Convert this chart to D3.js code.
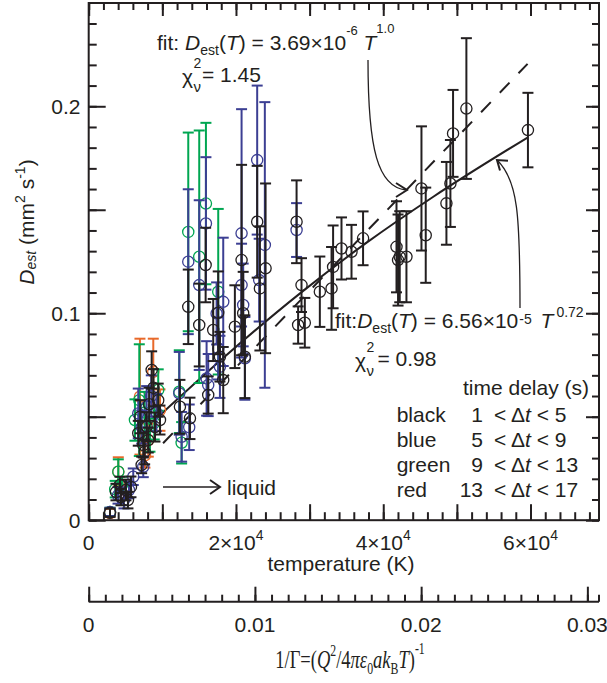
<!DOCTYPE html>
<html><head><meta charset="utf-8">
<script src="https://cdn.jsdelivr.net/npm/d3@7"></script>
<style>
body{margin:0;background:#fff;}
svg{display:block;}
text{font-family:"Liberation Sans", Arial, sans-serif; fill:#231f20;}
</style></head><body>
<svg id="c" width="607" height="683"></svg>
<script>
// ---------- data (T in K, D_est in mm^2/s, error half-width) ----------
const blackPts = [
 [2890,0.0036,0.002],[3700,0.0136,0.004],[4380,0.0112,0.004],[5060,0.0146,0.005],[5740,0.0161,0.005],
 [4250,0.0170,0.004],[5330,0.0097,0.004],[6730,0.0420,0.006],[7190,0.0267,0.004],[7870,0.0452,0.007],
 [8550,0.0726,0.009],[9440,0.0580,0.008],[8090,0.0387,0.006],[7410,0.0363,0.006],[9680,0.0484,0.007],
 [7000,0.0500,0.008],[8200,0.0560,0.008],[8800,0.0640,0.009],[9000,0.0450,0.007],[7600,0.0330,0.006],
 [12390,0.0548,0.013],[13750,0.0492,0.010],[13520,0.1031,0.018],[15010,0.0943,0.020],[15880,0.1233,0.018],
 [16230,0.0605,0.009],[16910,0.0919,0.015],[17820,0.0790,0.012],[18270,0.0677,0.016],[17590,0.1002,0.020],
 [20760,0.1257,0.046],[19850,0.0935,0.020],[21210,0.0790,0.020],[20980,0.1000,0.020],[22880,0.1442,0.027],
 [23250,0.1120,0.030],[24020,0.1217,0.041],[28230,0.1442,0.020],[28900,0.1136,0.013],[28440,0.0943,0.009],
 [29350,0.0954,0.012],[31390,0.1104,0.017],[32980,0.1120,0.020],[33190,0.1224,0.020],[34330,0.1313,0.015],
 [35690,0.1297,0.013],[37260,0.1362,0.013],[41800,0.1321,0.022],[42010,0.1257,0.022],[42240,0.1273,0.022],
 [43150,0.1273,0.022],[45190,0.1603,0.030],[45770,0.1377,0.023],[48580,0.1531,0.020],[49120,0.1627,0.021],
 [49480,0.1869,0.021],[51290,0.1989,0.034],[59650,0.1885,0.018]
];
const bluePts = [
 [13520,0.1249,0.035],[15010,0.1136,0.041],[15920,0.1434,0.032],[18270,0.1055,0.031],[20760,0.1386,0.060],
 [22880,0.1740,0.036],[23920,0.1330,0.069],[28230,0.1402,0.013],[20760,0.1136,0.020],[20980,0.1040,0.020],
 [23150,0.1160,0.020],[17370,0.0999,0.015],[17590,0.0830,0.015],[17820,0.0741,0.015],[16010,0.0685,0.018],
 [16230,0.0653,0.015],[21210,0.0782,0.020],[13650,0.0449,0.011],[12620,0.0403,0.012],[12300,0.0613,0.020],
 [6730,0.0516,0.012],[7870,0.0548,0.010],[7410,0.0258,0.005],[6050,0.0210,0.004],[3980,0.0120,0.004],
 [4790,0.0097,0.004],[5470,0.0146,0.004],[2890,0.0040,0.002],[8500,0.0600,0.010],[9200,0.0520,0.009],
 [7200,0.0450,0.008]
];
const greenPts = [
 [13520,0.1393,0.048],[15010,0.1273,0.061],[15920,0.1530,0.039],[17590,0.1104,0.040],[12300,0.0621,0.020],
 [12620,0.0374,0.010],[6870,0.0580,0.027],[9440,0.0629,0.010],[4020,0.0234,0.006],[6280,0.0484,0.010],
 [8320,0.0411,0.008],[4520,0.0170,0.004],[2890,0.0040,0.002],[3600,0.0150,0.004],[7600,0.0520,0.010],
 [8900,0.0470,0.008]
];
const redPts = [
 [6960,0.0597,0.028],[8770,0.0717,0.016],[9680,0.0532,0.010],[8090,0.0387,0.008],[4020,0.0234,0.007],
 [4930,0.0146,0.004],[2890,0.0035,0.002],[7640,0.0314,0.006]
];
// fit curves
const fitPowerLaw = [[9600,0.0505],[18300,0.0785],[28700,0.1096],[37700,0.1340],[46800,0.1563],[59650,0.1850]];
const fitLinear = [[10100,0.0372],[59600,0.2205]];
// tick labels
const xTickLabels = [0, 20000, 40000, 60000];
const yTickLabels = [0, 0.1, 0.2];
const gammaTickLabels = [0, 0.01, 0.02, 0.03];
const legendRows = [["black","1","5"],["blue","5","9"],["green","9","13"],["red","13","17"]];

// ---------- setup ----------
const svg = d3.select("#c");
const x = d3.scaleLinear().domain([0, 69300]).range([88.7, 599]);
const y = d3.scaleLinear().domain([0, 0.2499]).range([520.2, 3]);
const x2 = d3.scaleLinear().domain([0, 0.0307]).range([88.7, 599]);
const INK = "#231f20";
const colors = {black:INK, blue:"#3c3f93", green:"#00a651", red:"#e8692a"};

function rich(sel, px, py, parts, opt={}) {
  const t = sel.append("text").attr("x",px).attr("y",py)
    .attr("font-size", opt.size||21).attr("text-anchor", opt.anchor||"start");
  if (opt.family) t.style("font-family", opt.family);
  let cur = 0;
  parts.forEach(p => {
    const [str, kind, shift, dx, fs] = p;
    let target = 0, size = null;
    const italic = kind.indexOf("i") === 0;
    if (kind.endsWith("sup")) { target = (shift!==undefined && shift!==null) ? shift : -9; size = fs||14; }
    else if (kind.endsWith("sub")) { target = (shift!==undefined && shift!==null) ? shift : 5; size = fs||14; }
    const ts = t.append("tspan").text(str).attr("dy", target - cur);
    if (size) ts.attr("font-size", size);
    if (italic) ts.attr("font-style","italic");
    if (dx) ts.attr("dx", dx);
    cur = target;
  });
  return t;
}

// ---------- fit lines ----------
const line = d3.line().x(d=>x(d[0])).y(d=>y(d[1]));
svg.append("path").datum(fitLinear).attr("d", line)
  .attr("fill","none").attr("stroke",INK).attr("stroke-width",2).attr("stroke-dasharray","14,13");
svg.append("path").datum(fitPowerLaw).attr("d", line.curve(d3.curveMonotoneX))
  .attr("fill","none").attr("stroke",INK).attr("stroke-width",2);

// ---------- data with error bars ----------
function drawSeries(pts, col) {
  const g = svg.append("g").attr("stroke", col).attr("fill","none");
  const s = g.selectAll("g").data(pts).join("g");
  s.append("line").attr("x1",d=>x(d[0])).attr("x2",d=>x(d[0]))
    .attr("y1",d=>y(d[1]-d[2])).attr("y2",d=>y(d[1]+d[2])).attr("stroke-width",2);
  s.append("line").attr("x1",d=>x(d[0])-5.5).attr("x2",d=>x(d[0])+5.5)
    .attr("y1",d=>y(d[1]+d[2])).attr("y2",d=>y(d[1]+d[2])).attr("stroke-width",2);
  s.append("line").attr("x1",d=>x(d[0])-5.5).attr("x2",d=>x(d[0])+5.5)
    .attr("y1",d=>y(d[1]-d[2])).attr("y2",d=>y(d[1]-d[2])).attr("stroke-width",2);
  s.append("circle").attr("cx",d=>x(d[0])).attr("cy",d=>y(d[1])).attr("r",5.6).attr("stroke-width",1.3);
}
drawSeries(redPts, colors.red);
drawSeries(greenPts, colors.green);
drawSeries(bluePts, colors.blue);
drawSeries(blackPts, colors.black);

// ---------- frame and ticks ----------
const [xl, xr] = x.range(), [yb, yt] = y.range();
svg.append("rect").attr("x",xl).attr("y",yt).attr("width",xr-xl).attr("height",yb-yt)
  .attr("fill","none").attr("stroke",INK).attr("stroke-width",2);

const xMinor = d3.range(0, 69300, 2000), xMajor = d3.range(0, 69300, 10000);
const yMinor = d3.range(0, 0.2495, 0.01), yMajor = d3.range(0, 0.2495, 0.05);
function styleAxis(g){ g.select(".domain").remove(); g.selectAll("line").attr("stroke",INK).attr("stroke-width",2); g.selectAll("text").remove(); }
svg.append("g").attr("transform",`translate(0,${yb})`).call(d3.axisBottom(x).tickValues(xMinor).tickSize(-8)).call(styleAxis);
svg.append("g").attr("transform",`translate(0,${yb})`).call(d3.axisBottom(x).tickValues(xMajor).tickSize(-16)).call(styleAxis);
svg.append("g").attr("transform",`translate(0,${yt})`).call(d3.axisBottom(x).tickValues(xMinor).tickSize(7)).call(styleAxis);
svg.append("g").attr("transform",`translate(0,${yt})`).call(d3.axisBottom(x).tickValues(xMajor).tickSize(13)).call(styleAxis);
svg.append("g").attr("transform",`translate(${xl},0)`).call(d3.axisRight(y).tickValues(yMinor).tickSize(8)).call(styleAxis);
svg.append("g").attr("transform",`translate(${xl},0)`).call(d3.axisRight(y).tickValues(yMajor).tickSize(17)).call(styleAxis);
svg.append("g").attr("transform",`translate(${xr},0)`).call(d3.axisLeft(y).tickValues(yMinor).tickSize(7)).call(styleAxis);
svg.append("g").attr("transform",`translate(${xr},0)`).call(d3.axisLeft(y).tickValues(yMajor).tickSize(13)).call(styleAxis);

// x tick labels
xTickLabels.forEach(v => {
  if (v === 0) rich(svg, x(v), 550, [["0","n"]], {anchor:"middle"});
  else rich(svg, x(v), 550, [[String(v/10000)+"×10","n"],["4","sup",-10]], {anchor:"middle"});
});
// y tick labels
yTickLabels.forEach(v => {
  svg.append("text").attr("x",80.5).attr("y",y(v)).attr("dy","0.36em").attr("text-anchor","end")
    .attr("font-size",21).text(v===0?"0":String(v));
});
rich(svg, 341, 571, [["temperature (K)","n"]], {anchor:"middle"});
rich(svg, 0, 0, [["D","i"],["est","isub",2],["  (mm","n"],["2","sup",-9],[" s","n"],["-1","sup",-9],[")","n"]],
  {anchor:"middle"}).attr("transform","translate(34,222) rotate(-90)");

// ---------- secondary axis ----------
const ay = 601.7;
svg.append("line").attr("x1",x2.range()[0]).attr("x2",x2.range()[1]).attr("y1",ay).attr("y2",ay)
  .attr("stroke",INK).attr("stroke-width",2);
svg.append("g").attr("transform",`translate(0,${ay})`).call(d3.axisBottom(x2).tickValues(d3.range(0,0.0306,0.001)).tickSize(-7)).call(styleAxis);
svg.append("g").attr("transform",`translate(0,${ay})`).call(d3.axisBottom(x2).tickValues(gammaTickLabels).tickSize(-15)).call(styleAxis);
svg.append("line").attr("x1",x2.range()[1]).attr("x2",x2.range()[1]).attr("y1",ay).attr("y2",ay-7)
  .attr("stroke",INK).attr("stroke-width",2);
gammaTickLabels.forEach(v => {
  svg.append("text").attr("x",x2(v)).attr("y",631.5).attr("text-anchor","middle").attr("font-size",21)
    .text(v===0?"0":String(v));
});
rich(svg, 0, 0, [["1/Γ=(","n"],["Q","i"],["2","sup",-12,null,16],["/4","n"],["πε","i"],["0","sub",6,null,16],["a","i"],["k","i"],["B","sub",6,null,16],["T","i"],[")","n"],["-1","sup",-14,null,16]],
  {anchor:"middle", family:"'Liberation Serif', 'Times New Roman', serif", size:25})
  .attr("transform","translate(350,668) scale(0.74,1)");

// ---------- annotations ----------
rich(svg, 157, 50, [["fit: ","n"],["D","i"],["est","sub",5],["(","n"],["T","i"],[") = 3.69×10","n"],["-6","sup",-15,null,13],[" ","n"],["T","i"],["1.0","sup",-17,null,13]]);
svg.append("text").attr("x",182).attr("y",84).attr("font-size",21).text("χ");
svg.append("text").attr("x",193.5).attr("y",68).attr("font-size",14).text("2");
svg.append("text").attr("x",193.5).attr("y",92).attr("font-size",15).text("ν");
svg.append("text").attr("x",202).attr("y",82).attr("font-size",21).text("= 1.45");

rich(svg, 335, 328, [["fit:","n"],["D","i"],["est","sub",5],["(","n"],["T","i"],[") = 6.56×10","n"],["-5","sup",-4,1,14],[" ","n",0,3],["T","i"],["0.72","sup",-11,3,14]]);
svg.append("text").attr("x",355).attr("y",368).attr("font-size",21).text("χ");
svg.append("text").attr("x",366.5).attr("y",352).attr("font-size",14).text("2");
svg.append("text").attr("x",366.5).attr("y",376).attr("font-size",15).text("ν");
svg.append("text").attr("x",377.5).attr("y",365.5).attr("font-size",21).text("= 0.98");

// legend
svg.append("text").attr("x",463).attr("y",395).attr("font-size",21).text("time delay (s)");
legendRows.forEach((r,i) => {
  const by = 421.7 + i*25;
  svg.append("text").attr("x",396.7).attr("y",by).attr("font-size",21).text(r[0]);
  svg.append("text").attr("x",483).attr("y",by).attr("font-size",21).attr("text-anchor","end").text(r[1]);
  rich(svg, 494, by, [["< Δ","n"],["t","i"],[" < "+r[2],"n"]]);
});

// arrows
const arrow = svg.append("g").attr("fill","none").attr("stroke",INK);
arrow.append("path").attr("d","M368,60 C368,150 378,187 406,190").attr("stroke-width",1.3);
arrow.append("path").attr("d","M396,183 L407,190 L396,197").attr("stroke-width",2);
arrow.append("path").attr("d","M520,308 C520,215 518,180 497,160").attr("stroke-width",1.3);
arrow.append("path").attr("d","M500,170.5 L497,160 L508,160.7").attr("stroke-width",2);
arrow.append("path").attr("d","M163,487 L219,487").attr("stroke-width",1.5);
arrow.append("path").attr("d","M210,480 L220,487 L210,494").attr("stroke-width",2);
svg.append("text").attr("x",227).attr("y",495).attr("font-size",21).text("liquid");
</script>
</body></html>
